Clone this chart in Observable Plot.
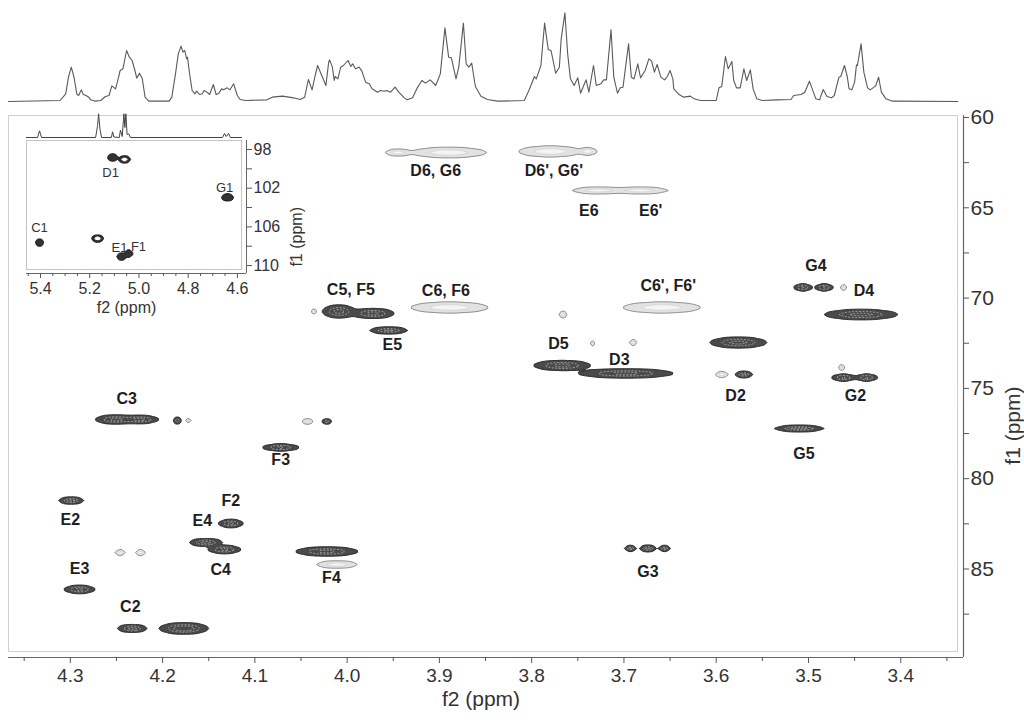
<!DOCTYPE html>
<html><head><meta charset="utf-8">
<script src="https://cdn.jsdelivr.net/npm/d3@7"></script>
<script src="https://cdn.jsdelivr.net/npm/@observablehq/plot@0.6"></script>
<style>
body{margin:0;background:#fff;}
#wrap{position:relative;width:1024px;height:720px;overflow:hidden;background:#fff;}
#wrap svg{position:absolute;}
</style></head><body><div id="wrap"></div>
<script>
// ---------- 1D proton spectrum (top trace): chemical shift (ppm) and intensity ----------
const specPpm = [4.367,4.311,4.305,4.302,4.299,4.296,4.293,4.291,4.288,4.286,4.283,4.280,4.278,4.273,4.267,4.262,4.258,4.255,4.251,4.249,4.246,4.243,4.239,4.236,4.233,4.230,4.228,4.225,4.222,4.219,4.215,4.193,4.190,4.186,4.183,4.180,4.178,4.176,4.174,4.173,4.171,4.168,4.165,4.163,4.160,4.157,4.155,4.152,4.149,4.145,4.142,4.139,4.136,4.134,4.130,4.127,4.123,4.119,4.116,4.110,4.087,4.081,4.070,4.058,4.051,4.046,4.042,4.038,4.035,4.032,4.029,4.023,4.020,4.019,4.016,4.014,4.013,4.010,4.007,4.004,3.999,3.996,3.994,3.991,3.987,3.984,3.980,3.976,3.973,3.967,3.964,3.960,3.957,3.953,3.948,3.944,3.938,3.935,3.929,3.924,3.919,3.915,3.910,3.904,3.899,3.894,3.890,3.887,3.882,3.879,3.874,3.871,3.868,3.865,3.861,3.855,3.848,3.837,3.834,3.808,3.803,3.797,3.795,3.790,3.786,3.782,3.779,3.774,3.770,3.768,3.764,3.761,3.758,3.754,3.750,3.747,3.741,3.738,3.733,3.730,3.725,3.722,3.719,3.714,3.711,3.707,3.704,3.701,3.695,3.692,3.689,3.685,3.682,3.677,3.673,3.670,3.667,3.664,3.660,3.656,3.653,3.650,3.647,3.646,3.640,3.635,3.628,3.624,3.617,3.600,3.597,3.594,3.590,3.587,3.583,3.581,3.578,3.574,3.570,3.567,3.563,3.560,3.556,3.550,3.534,3.519,3.516,3.508,3.504,3.499,3.496,3.492,3.488,3.484,3.480,3.475,3.472,3.467,3.465,3.461,3.458,3.456,3.453,3.450,3.448,3.447,3.443,3.440,3.436,3.433,3.429,3.427,3.424,3.421,3.416,3.409,3.338];
const specInt = [0,3,23,73,103,73,23,18,35,21,18,13,5,1,3,15,18,47,38,58,93,98,153,133,123,93,70,85,68,13,1,1,13,83,143,166,148,153,128,133,88,33,23,31,21,23,33,28,21,51,21,25,38,35,41,35,53,18,6,3,5,13,16,11,6,13,66,35,73,108,88,48,118,125,103,63,75,68,103,108,123,105,113,98,103,91,58,53,38,28,33,31,33,28,43,28,11,5,11,41,63,55,65,48,83,221,133,131,68,103,235,113,103,115,45,16,6,1,1,3,33,75,68,108,235,155,153,85,103,188,266,143,68,48,71,25,65,28,108,48,53,65,65,215,73,25,41,43,173,73,68,113,71,93,128,121,88,111,73,65,75,93,68,38,20,13,16,8,3,3,41,45,135,98,120,63,41,41,98,63,95,38,8,3,5,6,18,21,28,61,38,8,5,36,15,11,18,73,75,108,75,38,35,58,110,108,173,88,41,35,43,48,73,28,8,1,0];

// ---------- HSQC cross peaks (main panel) ----------
// f2 (ppm), f1 (ppm), half extent along f2 / f1 (ppm), relative amplitude, phase (1 = dark CH, -1 = grey CH2)
const crossF2    = [4.009,3.972,3.955,3.767,3.698,3.506,3.483,3.443,3.576,3.570,3.462,3.437,3.510,4.251,4.224,4.184,4.022,4.072,4.299,4.126,4.153,4.133,4.022,4.290,4.233,4.177,3.693,3.674,3.656, 3.945,3.890,3.780,3.739,3.728,3.682,3.889,3.659,3.594,3.462,3.464,4.172,4.043,4.246,4.224,4.011,4.036,3.766,3.734,3.690];
const crossF1    = [70.74,70.85,71.79,73.73,74.17,69.41,69.41,70.91,72.46,74.23,74.40,74.40,77.22,76.72,76.72,76.78,76.83,78.27,81.21,82.48,83.53,83.92,84.03,86.13,88.29,88.29,83.86,83.86,83.86, 61.94,61.94,61.88,61.88,64.04,64.04,70.52,70.52,74.23,69.41,73.84,76.78,76.83,84.09,84.09,84.75,70.74,70.91,72.51,72.46];
const crossHalfF2 = [0.018,0.023,0.021,0.031,0.052,0.010,0.010,0.040,0.031,0.010,0.013,0.012,0.027,0.022,0.020,0.0045,0.0055,0.020,0.0136,0.0136,0.018,0.018,0.034,0.017,0.016,0.0255,0.0065,0.009,0.0065, 0.0136,0.041,0.034,0.0098,0.028,0.030,0.042,0.042,0.007,0.0033,0.0033,0.0025,0.0055,0.0054,0.0054,0.022,0.0022,0.0038,0.0022,0.0038];
const crossHalfF1 = [0.36,0.28,0.19,0.28,0.25,0.19,0.19,0.28,0.30,0.17,0.19,0.19,0.17,0.25,0.22,0.19,0.14,0.19,0.19,0.22,0.22,0.22,0.25,0.22,0.22,0.30,0.15,0.17,0.15, 0.17,0.28,0.30,0.19,0.17,0.17,0.30,0.30,0.14,0.14,0.14,0.11,0.14,0.14,0.14,0.19,0.11,0.17,0.11,0.14];
const crossAmp   = [1,1,0.9,1,1,1,1,1,1,0.9,1,1,1,1,1,0.8,0.8,1,1,1,1,1,1,1,1,1.3,0.9,1,0.9, 1,1,1,1,1,1,1,1,1,1,1,1,1,1,1,1,1,1,1,1];
const crossPhase = [1,1,1,1,1,1,1,1,1,1,1,1,1,1,1,1,1,1,1,1,1,1,1,1,1,1,1,1,1, -1,-1,-1,-1,-1,-1,-1,-1,-1,-1,-1,-1,-1,-1,-1,-1,-1,-1,-1,-1];

// ---------- peak assignments (main panel) ----------
const labelText = ["D6, G6","D6', G6'","E6","E6'","C5, F5","C6, F6","E5","D5","C6', F6'","D3","G4","D4","D2","G2","G5","C3","F3","E2","F2","E4","C4","F4","E3","C2","G3"];
const labelF2   = [3.904,3.776,3.738,3.671,3.996,3.893,3.951,3.771,3.652,3.705,3.492,3.440,3.579,3.449,3.505,4.239,4.072,4.300,4.126,4.157,4.137,4.017,4.290,4.235,3.674];
const labelF1   = [62.93,62.93,65.15,65.15,69.52,69.58,72.57,72.51,69.30,73.40,68.19,69.58,75.39,75.39,78.60,75.56,78.94,82.26,81.21,82.31,85.03,85.47,84.97,87.08,85.14];

// ---------- axis ticks (main panel) ----------
const xTickMajor = [4.3,4.2,4.1,4.0,3.9,3.8,3.7,3.6,3.5,3.4];
const xTickMinor = [4.35,4.25,4.15,4.05,3.95,3.85,3.75,3.65,3.55,3.45,3.35];
const yTickMajor = [60,65,70,75,80,85];
const yTickMinor = [62.5,67.5,72.5,77.5,82.5,87.5];

// ---------- inset: anomeric region ----------
const insetSpecPpm = [5.457,5.412,5.404,5.396,5.176,5.168,5.164,5.158,5.152,5.112,5.107,5.102,5.080,5.075,5.068,5.061,5.057,5.053,5.048,5.041,5.035,4.660,4.652,4.645,4.636,4.628,4.583];
const insetSpecInt = [0,0,6.7,0,0,12,23.7,8,0,0,5.7,0.5,0,7.4,1,23.7,10,23.7,3,3.7,0,0,4,1,4,0,0];
const insetF2    = [5.107,5.059,4.640,5.404,5.168,5.071,5.042,5.286];
const insetF1    = [98.83,99.03,102.96,107.62,107.20,109.07,108.76,109.17];
const insetHalfF2 = [0.020,0.024,0.024,0.016,0.024,0.018,0.016,0.004];
const insetHalfF1 = [0.36,0.36,0.36,0.36,0.36,0.36,0.36,0.15];
const insetKind  = [1,2,1,1,2,1,1,3];  // 1 filled, 2 ring, 3 faint
const insetLabelText = ["D1","G1","C1","E1","F1"];
const insetLabelF2 = [5.115,4.652,5.404,5.079,5.002];
const insetLabelF1 = [100.38,101.93,106.07,108.13,108.03];
const insetXMajor = [5.4,5.2,5.0,4.8,4.6];
const insetXMinor = [5.45,5.35,5.3,5.25,5.15,5.1,5.05,4.95,4.9,4.85,4.75,4.7,4.65];
const insetYMajor = [98,102,106,110];
const insetYMinor = [100,104,108];

// ---------- rendering ----------
const FONT = '"Liberation Sans", Arial, sans-serif';
const wrap = document.getElementById("wrap");
const XD = [4.367, 3.332], YD = [59.89, 89.9];

function field(ids, F2, F1, H2, H1, A) {
  const P = ids.map(i => ({x: F2[i], y: F1[i], sx: H2[i] / 2.146, sy: H1[i] / 2.146, a: A ? A[i] : 1}));
  return (x, y) => {
    let v = 0;
    for (const p of P) {
      const dx = (x - p.x) / p.sx; if (dx > 4 || dx < -4) continue;
      const dy = (y - p.y) / p.sy; if (dy > 4 || dy < -4) continue;
      v += p.a * Math.exp(-0.5 * (dx * dx + dy * dy));
    }
    return v;
  };
}
const idx = crossF2.map((_, i) => i);
const fDark = field(idx.filter(i => crossPhase[i] > 0), crossF2, crossF1, crossHalfF2, crossHalfF1, crossAmp);
const fLight = field(idx.filter(i => crossPhase[i] < 0), crossF2, crossF1, crossHalfF2, crossHalfF1, crossAmp);
const ext = {x1: XD[0], x2: XD[1], y1: YD[0], y2: YD[1]};

const main = Plot.plot({
  width: 1024, height: 720,
  marginLeft: 8, marginRight: 61, marginTop: 115, marginBottom: 63,
  x: {domain: XD, axis: null},
  y: {domain: YD, reverse: true, axis: null},
  style: {fontFamily: FONT, background: "transparent", overflow: "visible"},
  marks: [
    Plot.frame({stroke: "#cfcfcf", insetRight: 6, insetBottom: 6}),
    Plot.contour({...ext, value: fLight, thresholds: [0.1], fill: "#e2e2e2", stroke: "#8e8e8e", strokeWidth: 1}),
    Plot.contour({...ext, value: fLight, thresholds: [0.55], fill: "#f4f4f4", stroke: "#cccccc", strokeWidth: 0.6}),
    Plot.contour({...ext, value: fDark, thresholds: [0.1], fill: "#4a4a4a", stroke: "#2a2a2a", strokeWidth: 1}),
    Plot.contour({...ext, value: fDark, thresholds: [0.45, 0.8], fill: "none", stroke: "#bdbdbd", strokeWidth: 0.7, strokeDasharray: "2,1.5"}),
    Plot.text(labelText, {x: (d, i) => labelF2[i], y: (d, i) => labelF1[i], text: d => d, fontSize: 16, fontWeight: "bold", fill: "#1e1e1e"}),
    Plot.ruleY([YD[1]], {stroke: "#666", strokeWidth: 1.2}),
    Plot.ruleX([XD[1]], {stroke: "#666", strokeWidth: 1.2}),
    Plot.axisX(xTickMajor, {anchor: "bottom", tickSize: 6, tickPadding: 5, fontSize: 19, tickFormat: d => d.toFixed(1), stroke: "#555", fill: "#333", label: null}),
    Plot.axisX(xTickMinor, {anchor: "bottom", tickSize: 4, tickFormat: () => "", stroke: "#555", label: null}),
    Plot.axisY(yTickMajor, {anchor: "right", tickSize: 5, tickPadding: 2, fontSize: 21, stroke: "#555", fill: "#333", label: null}),
    Plot.axisY(yTickMinor, {anchor: "right", tickSize: 5, tickFormat: () => "", stroke: "#555", label: null}),
    Plot.text(["f2 (ppm)"], {frameAnchor: "bottom", dy: 48, dx: -5, fontSize: 21, fill: "#333"}),
    Plot.text(["f1 (ppm)"], {frameAnchor: "right", dx: 50, rotate: -90, fontSize: 21, fill: "#333"})
  ]
});
main.style.left = "0px"; main.style.top = "0px";
wrap.appendChild(main);

const top1d = Plot.plot({
  width: 1024, height: 102,
  marginLeft: 8, marginRight: 61, marginTop: 0, marginBottom: 1,
  x: {domain: XD, axis: null},
  y: {domain: [0, 303], axis: null},
  style: {background: "transparent", overflow: "visible"},
  marks: [Plot.line(specPpm, {x: d => d, y: (d, i) => specInt[i], stroke: "#5a5a5a", strokeWidth: 1.1})]
});
top1d.style.left = "0px"; top1d.style.top = "0px";
wrap.appendChild(top1d);

// inset
const IXD = [5.457, 4.563], IYD = [97.07, 110.82];
const iIdx = insetF2.map((_, i) => i);
const fInDark = field(iIdx.filter(i => insetKind[i] <= 2), insetF2, insetF1, insetHalfF2, insetHalfF1);
const fInRing = field(iIdx.filter(i => insetKind[i] === 2), insetF2, insetF1, insetHalfF2, insetHalfF1);
const fInFaint = field(iIdx.filter(i => insetKind[i] === 3), insetF2, insetF1, insetHalfF2, insetHalfF1);
const iext = {x1: IXD[0], x2: IXD[1], y1: IYD[0], y2: IYD[1]};
const inset = Plot.plot({
  width: 310, height: 235,
  marginLeft: 26, marginRight: 64, marginTop: 40, marginBottom: 62,
  x: {domain: IXD, axis: null},
  y: {domain: IYD, reverse: true, axis: null},
  style: {fontFamily: FONT, background: "transparent", overflow: "visible"},
  marks: [
    Plot.frame({stroke: "#c4c4c4", insetRight: 5, insetBottom: 4}),
    Plot.contour({...iext, value: fInFaint, thresholds: [0.3], fill: "#bbb", stroke: "none"}),
    Plot.contour({...iext, value: fInDark, thresholds: [0.1], fill: "#333", stroke: "#1a1a1a", strokeWidth: 1}),
    Plot.contour({...iext, value: fInRing, thresholds: [0.5], fill: "#fff", stroke: "none"}),
    Plot.text(insetLabelText, {x: (d, i) => insetLabelF2[i], y: (d, i) => insetLabelF1[i], text: d => d, fontSize: 13, fill: "#333"}),
    Plot.ruleY([IYD[1]], {stroke: "#666"}),
    Plot.ruleX([IXD[1]], {stroke: "#666"}),
    Plot.axisX(insetXMajor, {anchor: "bottom", tickSize: 5, tickPadding: 4, fontSize: 16, tickFormat: d => d.toFixed(1), stroke: "#555", fill: "#333", label: null}),
    Plot.axisX(insetXMinor, {anchor: "bottom", tickSize: 3, tickFormat: () => "", stroke: "#555", label: null}),
    Plot.axisY(insetYMajor, {anchor: "right", tickSize: 5, tickPadding: 2, fontSize: 16, stroke: "#555", fill: "#333", label: null}),
    Plot.axisY(insetYMinor, {anchor: "right", tickSize: 5, tickFormat: () => "", stroke: "#555", label: null}),
    Plot.text(["f2 (ppm)"], {frameAnchor: "bottom", dy: 39, dx: -10, fontSize: 16, fill: "#333"}),
    Plot.text(["f1 (ppm)"], {frameAnchor: "right", dx: 50, rotate: -90, fontSize: 16, fill: "#333"})
  ]
});
inset.style.left = "0px"; inset.style.top = "100px";
wrap.appendChild(inset);

const inset1d = Plot.plot({
  width: 310, height: 33,
  marginLeft: 26, marginRight: 69, marginTop: 0, marginBottom: 1,
  x: {domain: [5.457, 4.583], axis: null},
  y: {domain: [0, 32], axis: null},
  style: {background: "transparent", overflow: "visible"},
  marks: [Plot.line(insetSpecPpm, {x: d => d, y: (d, i) => insetSpecInt[i], stroke: "#444", strokeWidth: 1})]
});
inset1d.style.left = "0px"; inset1d.style.top = "105px";
wrap.appendChild(inset1d);
</script></body></html>
